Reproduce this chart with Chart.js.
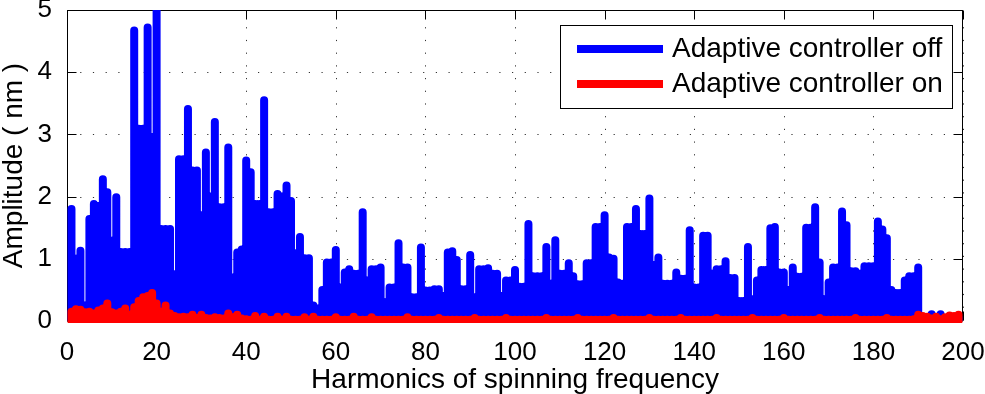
<!DOCTYPE html>
<html>
<head>
<meta charset="utf-8">
<script src="https://cdn.jsdelivr.net/npm/chart.js@4/dist/chart.umd.min.js"></script>
<style>
  html, body { margin: 0; padding: 0; background: #fff; }
  canvas { display: block; }
</style>
</head>
<body>
<canvas id="spectrum" width="985" height="394"></canvas>
<script>
// harmonic index 1..199
const harmonics = Array.from({ length: 199 }, (_, i) => i + 1);

const ampOff = [
    1.80, 1.00, 1.13, 0.25, 1.64, 1.88, 1.85, 2.28, 2.07, 1.29,
    1.99, 1.11, 1.11, 1.11, 4.67, 3.09, 3.09, 4.72, 2.96, 5.30,
    1.48, 1.48, 1.48, 0.75, 2.60, 2.60, 3.41, 2.42, 2.42, 1.70,
    2.71, 2.00, 3.20, 1.83, 1.83, 2.79, 0.70, 1.10, 1.15, 2.58,
    2.39, 1.88, 1.88, 3.55, 1.75, 1.75, 2.04, 2.00, 2.18, 1.93,
    1.09, 1.35, 1.01, 1.01, 0.25, 0.20, 0.50, 0.94, 0.94, 1.14,
    0.54, 0.78, 0.83, 0.76, 0.76, 1.75, 0.65, 0.83, 0.83, 0.86,
    0.30, 0.54, 0.54, 1.25, 0.86, 0.86, 0.38, 0.38, 1.18, 0.49,
    0.49, 0.51, 0.51, 0.40, 1.10, 1.12, 0.98, 0.51, 0.51, 1.06,
    0.38, 0.83, 0.83, 0.85, 0.76, 0.76, 0.40, 0.65, 0.65, 0.82,
    0.55, 0.55, 1.56, 0.72, 0.72, 0.72, 1.19, 0.60, 1.30, 0.76,
    0.76, 0.93, 0.72, 0.59, 0.59, 0.93, 0.93, 1.51, 1.51, 1.70,
    1.02, 1.00, 0.62, 0.60, 1.51, 1.51, 1.80, 1.40, 1.40, 1.97,
    0.90, 1.02, 0.60, 0.60, 0.60, 0.78, 0.68, 0.68, 1.46, 0.54,
    0.54, 1.37, 1.37, 0.76, 0.83, 0.83, 0.96, 0.69, 0.69, 0.32,
    0.32, 1.19, 0.35, 0.65, 0.82, 0.82, 1.49, 1.51, 0.78, 0.78,
    0.50, 0.86, 0.71, 0.71, 1.50, 1.50, 1.83, 0.94, 0.35, 0.62,
    0.86, 0.86, 1.76, 1.54, 0.80, 0.80, 0.76, 0.88, 0.88, 0.88,
    1.60, 1.47, 1.33, 0.50, 0.45, 0.45, 0.65, 0.72, 0.72, 0.86,
    0.05, 0.04, 0.11, 0.05, 0.11, 0.05, 0.04, 0.05, 0.05
];

const ampOn = [
    0.15, 0.19, 0.18, 0.14, 0.15, 0.12, 0.17, 0.20, 0.28, 0.14,
    0.12, 0.15, 0.20, 0.10, 0.22, 0.32, 0.38, 0.40, 0.45, 0.28,
    0.15, 0.25, 0.12, 0.08, 0.06, 0.07, 0.06, 0.10, 0.05, 0.10,
    0.05, 0.04, 0.06, 0.05, 0.04, 0.12, 0.06, 0.10, 0.04, 0.03,
    0.02, 0.08, 0.02, 0.07, 0.02, 0.02, 0.07, 0.02, 0.07, 0.02,
    0.02, 0.02, 0.06, 0.02, 0.07, 0.02, 0.02, 0.02, 0.02, 0.06,
    0.02, 0.02, 0.02, 0.07, 0.02, 0.02, 0.02, 0.06, 0.02, 0.02,
    0.02, 0.02, 0.02, 0.02, 0.02, 0.06, 0.02, 0.02, 0.02, 0.02,
    0.02, 0.02, 0.05, 0.02, 0.02, 0.02, 0.02, 0.02, 0.02, 0.02,
    0.05, 0.02, 0.02, 0.02, 0.02, 0.02, 0.02, 0.05, 0.02, 0.02,
    0.02, 0.02, 0.02, 0.02, 0.02, 0.02, 0.05, 0.02, 0.02, 0.02,
    0.02, 0.02, 0.02, 0.05, 0.02, 0.02, 0.02, 0.02, 0.02, 0.02,
    0.02, 0.05, 0.02, 0.02, 0.02, 0.02, 0.02, 0.02, 0.02, 0.05,
    0.02, 0.02, 0.02, 0.02, 0.02, 0.02, 0.05, 0.02, 0.02, 0.02,
    0.02, 0.02, 0.02, 0.02, 0.05, 0.02, 0.02, 0.02, 0.02, 0.02,
    0.02, 0.02, 0.05, 0.02, 0.02, 0.02, 0.02, 0.02, 0.02, 0.05,
    0.02, 0.02, 0.02, 0.02, 0.02, 0.02, 0.02, 0.05, 0.02, 0.02,
    0.02, 0.02, 0.02, 0.02, 0.02, 0.05, 0.02, 0.02, 0.02, 0.02,
    0.02, 0.02, 0.05, 0.02, 0.02, 0.02, 0.02, 0.02, 0.03, 0.10,
    0.08, 0.07, 0.04, 0.07, 0.03, 0.06, 0.09, 0.08, 0.10
];

const seriesLabels = ['Adaptive controller off', 'Adaptive controller on'];
const seriesColors = ['#0000ff', '#ff0000'];

const xRange = [0, 200], xStep = 20;
const yRange = [0, 5], yStep = 1;

// each harmonic becomes a vertical stem: (h,0) -> (h,amp), then a gap
function stems(values) {
    const pts = [];
    harmonics.forEach((h, i) => {
        pts.push({ x: h, y: 0 }, { x: h, y: values[i] }, { x: h, y: null });
    });
    return pts;
}

Chart.defaults.font.family = "'Liberation Sans', Arial, sans-serif";
Chart.defaults.color = '#000';

// dotted grid, box and inward ticks, drawn under the stems like MATLAB
const axesBox = {
    id: 'axesBox',
    beforeDatasetsDraw(chart) {
        const { ctx, chartArea: a, scales } = chart;
        const L = Math.round(a.left) + 0.5, R = Math.round(a.right) - 0.5;
        const T = Math.round(a.top) + 0.5, B = Math.round(a.bottom) - 0.5;
        const len = 9;
        const xs = scales.x.ticks.map(t => Math.round(scales.x.getPixelForValue(t.value)) + 0.5);
        const ys = scales.y.ticks.map(t => Math.round(scales.y.getPixelForValue(t.value)) + 0.5);
        ctx.save();
        // grid dots
        ctx.strokeStyle = '#333';
        ctx.lineWidth = 1;
        ctx.setLineDash([1.2, 11.5]);
        ctx.beginPath();
        xs.forEach(px => { ctx.moveTo(px, B); ctx.lineTo(px, T); });
        ys.forEach(py => { ctx.moveTo(L, py); ctx.lineTo(R, py); });
        ctx.stroke();
        ctx.setLineDash([]);
        // frame and ticks
        ctx.strokeStyle = '#000';
        ctx.strokeRect(L, T, R - L, B - T);
        ctx.beginPath();
        xs.forEach(px => {
            ctx.moveTo(px, B); ctx.lineTo(px, B - len);
            ctx.moveTo(px, T); ctx.lineTo(px, T + len);
        });
        ys.forEach(py => {
            ctx.moveTo(L, py); ctx.lineTo(L + len, py);
            ctx.moveTo(R, py); ctx.lineTo(R - len, py);
        });
        ctx.stroke();
        ctx.restore();
    }
};

// legend box inside the plot, top right
const legendBox = {
    id: 'legendBox',
    afterDatasetsDraw(chart) {
        const { ctx, chartArea: a } = chart;
        const w = 392, h = 83;
        const x = Math.round(a.right - 11 - w), y = Math.round(a.top + 15);
        ctx.save();
        ctx.fillStyle = '#fff';
        ctx.fillRect(x, y, w, h);
        ctx.strokeStyle = '#000';
        ctx.lineWidth = 1;
        ctx.strokeRect(x + 0.5, y + 0.5, w, h);
        ctx.font = "28px 'Liberation Sans', Arial, sans-serif";
        ctx.textBaseline = 'middle';
        ctx.textAlign = 'left';
        chart.data.datasets.forEach((ds, i) => {
            const ry = y + 24 + i * 35;
            ctx.strokeStyle = ds.borderColor;
            ctx.lineWidth = 8;
            ctx.lineCap = 'butt';
            ctx.beginPath();
            ctx.moveTo(x + 17, ry);
            ctx.lineTo(x + 103, ry);
            ctx.stroke();
            ctx.fillStyle = '#000';
            ctx.fillText(ds.label, x + 112, ry);
        });
        ctx.restore();
    }
};

const config = {
    type: 'scatter',
    data: {
        datasets: [{
            label: seriesLabels[0],
            data: stems(ampOff),
            borderColor: seriesColors[0],
            backgroundColor: seriesColors[0],
            showLine: true,
            borderWidth: 8,
            borderCapStyle: 'round',
            pointRadius: 0,
            order: 2,
            clip: { left: 0, top: 0, right: 0, bottom: 0 }
        }, {
            label: seriesLabels[1],
            data: stems(ampOn),
            borderColor: seriesColors[1],
            backgroundColor: seriesColors[1],
            showLine: true,
            borderWidth: 8,
            borderCapStyle: 'round',
            pointRadius: 0,
            // drawn on top of the blue stems
            order: 1,
            clip: { left: 0, top: 0, right: 0, bottom: 2 }
        }]
    },
    options: {
        responsive: false,
        animation: false,
        layout: {
            padding: { left: 0, top: 10, right: 22, bottom: 0 }
        },
        plugins: {
            legend: { display: false },
            tooltip: { enabled: false }
        },
        scales: {
            x: {
                type: 'linear',
                min: xRange[0],
                max: xRange[1],
                ticks: { stepSize: xStep, padding: 8, maxRotation: 0, font: { size: 26 } },
                grid: { display: false },
                border: { display: false },
                title: {
                    display: true,
                    text: 'Harmonics of spinning frequency',
                    font: { size: 28, lineHeight: 1 },
                    padding: { top: 0, bottom: 0 }
                },
                afterFit(s) { s.height = 73; s.paddingLeft = 0; s.paddingRight = 0; }
            },
            y: {
                min: yRange[0],
                max: yRange[1],
                ticks: { stepSize: yStep, padding: 7, font: { size: 26 } },
                grid: { display: false },
                border: { display: false },
                title: {
                    display: true,
                    text: 'Amplitude ( nm )',
                    font: { size: 28, lineHeight: 1 },
                    padding: { top: 0, bottom: 0 }
                },
                afterFit(s) { s.width = 67; s.paddingTop = 0; s.paddingBottom = 0; }
            }
        }
    },
    plugins: [axesBox, legendBox]
};

const spectrumChart = new Chart(document.getElementById('spectrum'), config);
</script>
</body>
</html>
